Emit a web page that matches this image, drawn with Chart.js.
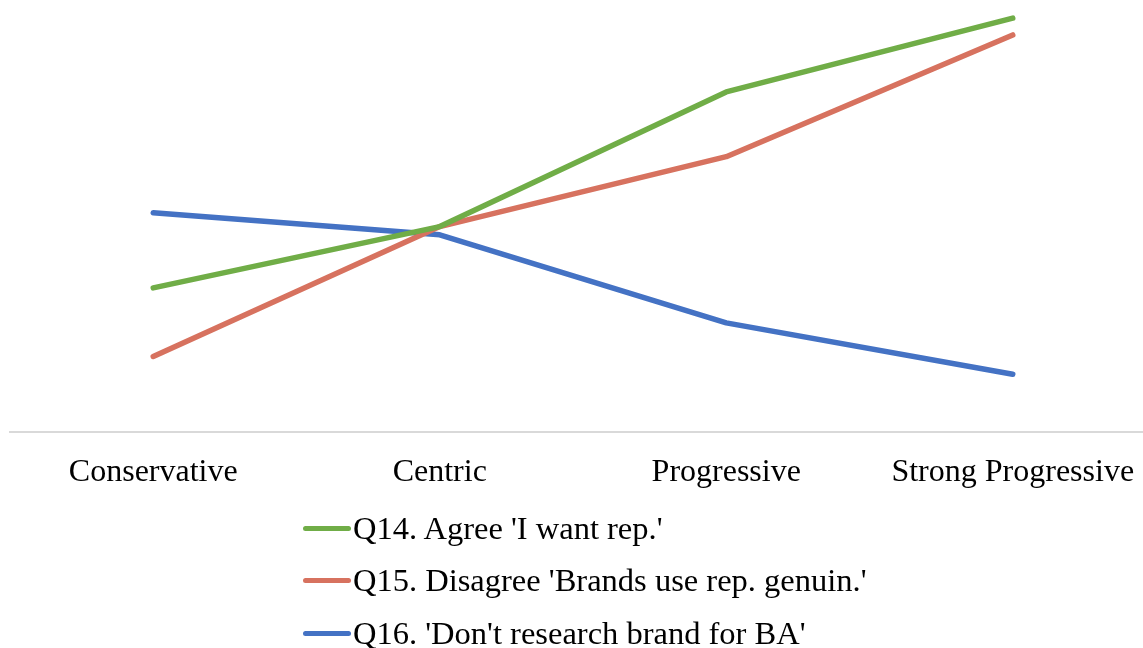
<!DOCTYPE html>
<html>
<head>
<meta charset="utf-8">
<script src="https://cdn.jsdelivr.net/npm/chart.js@4.4.0/dist/chart.umd.min.js"></script>
<style>
  html, body { margin: 0; padding: 0; background: #fff; overflow: hidden; }
  #wrap { position: relative; width: 1160px; height: 514px; }
  #legend { position: absolute; left: 303px; top: 502px; font-family: 'Liberation Serif', 'Times New Roman', serif; font-size: 32.5px; color: #000; }
  .item { display: flex; align-items: center; height: 52.5px; }
  .swatch { width: 48px; height: 5px; border-radius: 3px; margin-right: 2px; }
</style>
</head>
<body>
<div id="wrap"><canvas id="lineCanvas"></canvas></div>
<div id="legend"></div>
<script>
var categories = ['Conservative', 'Centric', 'Progressive', 'Strong Progressive'];
var seriesNames = ["Q14. Agree 'I want rep.'", "Q15. Disagree 'Brands use rep. genuin.'", "Q16. 'Don't research brand for BA'"];
var q14 = [33.3, 47.5, 78.7, 95.8];
var q15 = [17.4, 47.5, 63.7, 91.9];
var q16 = [50.7, 45.6, 25.2, 13.3];
var colors = ['#70AD47', '#D7725F', '#4472C4'];

function lineChartMethod() {
  var values = [q14, q15, q16];
  var datasets = values.map(function (v, i) {
    return {
      label: seriesNames[i],
      data: v,
      borderColor: colors[i],
      backgroundColor: colors[i],
      borderWidth: 5.5,
      borderCapStyle: 'round',
      borderJoinStyle: 'round',
      pointRadius: 0,
      tension: 0
    };
  });

  this.lineChart = new Chart(document.getElementById('lineCanvas').getContext('2d'), {
    type: 'line',
    data: { labels: categories, datasets: datasets },
    options: {
      responsive: true,
      maintainAspectRatio: false,
      animation: false,
      layout: { padding: { left: 10, right: 4, top: 0, bottom: 0 } },
      plugins: { legend: { display: false }, tooltip: { enabled: false } },
      scales: {
        x: {
          offset: true,
          grid: { display: false, drawTicks: false },
          border: { color: '#d9d9d9', width: 2 },
          ticks: {
            color: '#000',
            padding: 22,
            font: { family: "'Liberation Serif', 'Times New Roman', serif", size: 32 }
          }
        },
        y: { display: false, min: 0, max: 100 }
      }
    }
  });

  var legend = document.getElementById('legend');
  seriesNames.forEach(function (name, i) {
    var row = document.createElement('div');
    row.className = 'item';
    var sw = document.createElement('span');
    sw.className = 'swatch';
    sw.style.background = colors[i];
    var txt = document.createElement('span');
    txt.textContent = name;
    row.appendChild(sw);
    row.appendChild(txt);
    legend.appendChild(row);
  });
}

document.addEventListener('DOMContentLoaded', function () {
  lineChartMethod();
});
</script>
</body>
</html>
